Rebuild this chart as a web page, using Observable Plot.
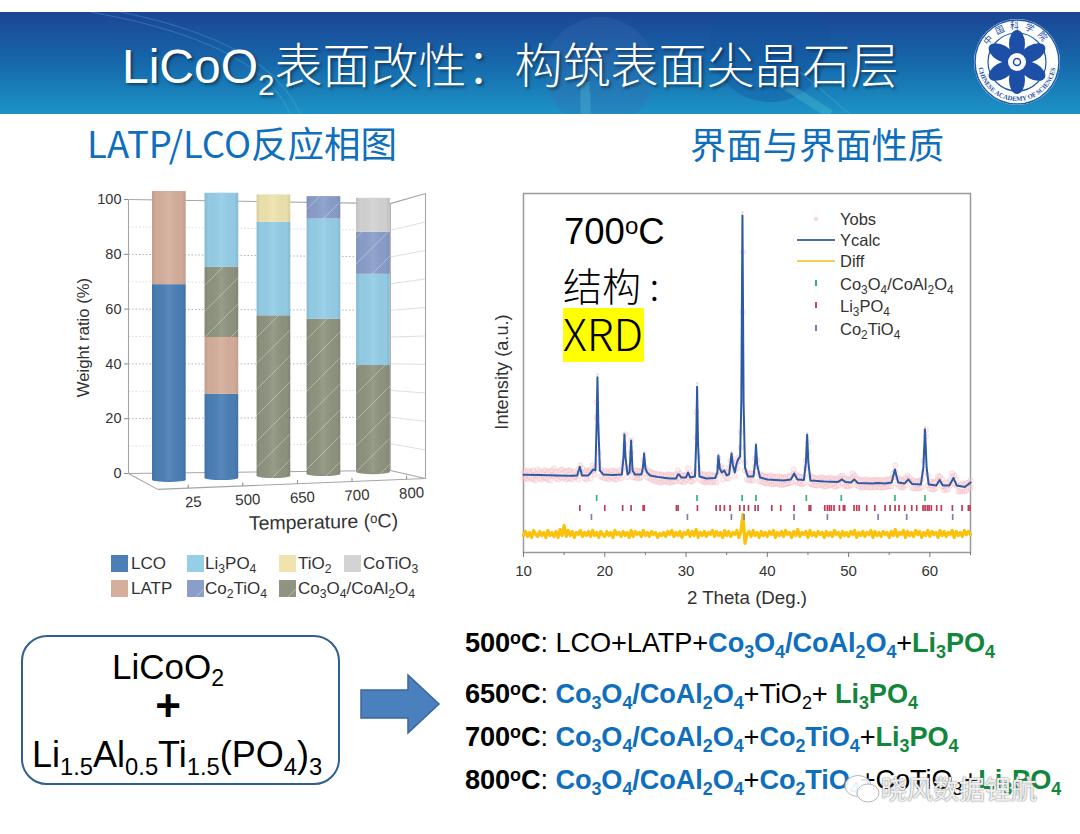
<!DOCTYPE html>
<html><head><meta charset="utf-8">
<script src="https://cdn.jsdelivr.net/npm/d3@7"></script>
<script src="https://cdn.jsdelivr.net/npm/@observablehq/plot@0.6"></script>
<style>
html,body{margin:0;padding:0;background:#fff;width:1080px;height:834px;overflow:hidden;font-family:"Liberation Sans",Arial,sans-serif}
.a{position:absolute;white-space:nowrap;line-height:1}
sub{font-size:66%;vertical-align:-0.32em;line-height:0}
sup{font-size:66%;vertical-align:0.42em;line-height:0}
.cjk{font-family:"Noto Sans CJK SC",sans-serif}
.row{font-size:27.2px;color:#000;letter-spacing:-.1px}
.b{font-weight:700}.blue{color:#0f6fbd;font-weight:700}.green{color:#12873c;font-weight:700}
.leg{font-size:17px;color:#333}
.leg sub{font-size:72%}
.sw{position:absolute;width:17px;height:17px}
.xl{font-size:16.5px;color:#333}
.xl sub{font-size:72%}
</style></head><body>
<svg width="0" height="0" style="position:absolute"><defs>
<pattern id="hatchCo" patternUnits="userSpaceOnUse" width="26" height="26"><rect width="26" height="26" fill="#8f9480"/><path d="M-2 28L28 -2" stroke="#fff" stroke-opacity=".35" stroke-width="1"/></pattern>
<pattern id="hatchCT" patternUnits="userSpaceOnUse" width="26" height="26"><rect width="26" height="26" fill="#8a9ecb"/><path d="M-2 28L28 -2" stroke="#fff" stroke-opacity=".35" stroke-width="1"/></pattern>
<linearGradient id="cyl" x1="0" x2="1" y1="0" y2="0"><stop offset="0" stop-color="#000" stop-opacity=".1"/><stop offset=".12" stop-color="#000" stop-opacity=".02"/><stop offset=".5" stop-color="#fff" stop-opacity=".08"/><stop offset=".88" stop-color="#000" stop-opacity=".02"/><stop offset="1" stop-color="#000" stop-opacity=".1"/></linearGradient>
</defs></svg>

<!-- banner -->
<svg class="a" style="left:0;top:12px" width="1080" height="102">
<defs><linearGradient id="ban" x1="0" x2="0" y1="0" y2="1"><stop offset="0" stop-color="#1c4595"/><stop offset=".5" stop-color="#1668ab"/><stop offset="1" stop-color="#1c93c6"/></linearGradient>
<path id="ringB" d="M978 62A39 39 0 0 0 1056 62"/><path id="ringT" d="M984 62A33 33 0 0 1 1050 62"/></defs>
<rect width="1080" height="102" fill="url(#ban)"/>
<circle cx="600" cy="60" r="55" fill="#3a6db0" opacity=".3"/><circle cx="770" cy="30" r="60" fill="#13509c" opacity=".35"/>
<path d="M590 80L590 102M800 60L850 102M90 0Q260 30 290 102M120 0Q270 30 300 102" stroke="#55bcd8" stroke-width="1.2" opacity=".3" fill="none"/>
<path d="M585 70L585 102M780 70L830 102" stroke="#5cc6d8" stroke-width="9" opacity=".3" fill="none"/>
<g transform="translate(0,-12)">
<circle cx="1017" cy="62" r="43" fill="#fff"/><circle cx="1017" cy="62" r="42" fill="none" stroke="#1c5aa8" stroke-width="1.5"/><circle cx="1017" cy="62" r="29" fill="none" stroke="#1c5aa8" stroke-width="1.2"/>
<g fill="#1c4fa5"><ellipse cx="1017" cy="44" rx="8" ry="14"/><ellipse cx="1017" cy="44" rx="8" ry="14" transform="rotate(60 1017 62)"/><ellipse cx="1017" cy="44" rx="8" ry="14" transform="rotate(120 1017 62)"/><ellipse cx="1017" cy="44" rx="8" ry="14" transform="rotate(180 1017 62)"/><ellipse cx="1017" cy="44" rx="8" ry="14" transform="rotate(240 1017 62)"/><ellipse cx="1017" cy="44" rx="8" ry="14" transform="rotate(300 1017 62)"/></g>
<circle cx="1017" cy="62" r="9" fill="#fff"/><circle cx="1017" cy="62" r="3.5" fill="none" stroke="#1c4fa5" stroke-width="1.5"/>
<text font-size="6.6" fill="#1c4fa5" font-family="Liberation Serif" font-weight="700"><textPath href="#ringB" startOffset="50%" text-anchor="middle">CHINESE ACADEMY OF SCIENCES</textPath></text>
<text font-size="9" fill="#1c4fa5" font-family="Noto Sans CJK SC"><textPath href="#ringT" startOffset="50%" text-anchor="middle" letter-spacing="5">中国科学院</textPath></text>
</g></svg>
<div class="a" style="left:122px;top:38px;font-size:48px;color:#fff;text-shadow:2px 2px 3px rgba(0,0,0,.45)">LiCoO<sub style="font-size:62%;vertical-align:-.4em">2</sub><span class="cjk" style="font-weight:300">表面改性&#xFF1A;构筑表面尖晶石层</span></div>

<div class="a cjk" style="left:87px;top:125px;font-size:36.5px;color:#0f6fbd;font-weight:400">LATP/LCO反应相图</div>
<div class="a cjk" style="left:690px;top:125px;font-size:36.3px;color:#0f6fbd;font-weight:400">界面与界面性质</div>

<div id="left" class="a" style="left:60px;top:170px"></div>
<div id="right" class="a" style="left:480px;top:180px"></div>

<!-- left legend -->
<div id="leg"></div>

<!-- right chart overlays -->
<div class="a" style="left:564px;top:214px;font-size:36.5px;color:#000">700<sup>o</sup>C</div>
<div class="a cjk" style="left:563px;top:265px;font-size:39px;color:#000;font-weight:300">结构 :</div>
<div class="a" style="left:563px;top:308px;width:81px;height:54px;background:#ffff00"></div>
<div class="a cjk" style="left:563px;top:310px;font-size:44px;color:#000;font-weight:300">XRD</div>
<div class="a" style="left:814px;top:217px;width:4px;height:4px;border-radius:2px;background:#f6d3d6"></div>
<div class="a" style="left:797px;top:239px;width:38px;height:2px;background:#4b6ea8"></div>
<div class="a" style="left:797px;top:260px;width:38px;height:2px;background:#f2cf5a"></div>
<div class="a" style="left:815px;top:280px;width:2px;height:6px;background:#35b07f"></div>
<div class="a" style="left:815px;top:302px;width:2px;height:6px;background:#c9445c"></div>
<div class="a" style="left:815px;top:325px;width:2px;height:6px;background:#7b7fae"></div>
<div class="a xl" style="left:840px;top:211px">Yobs</div>
<div class="a xl" style="left:840px;top:232px">Ycalc</div>
<div class="a xl" style="left:840px;top:253px">Diff</div>
<div class="a xl" style="left:840px;top:276px">Co<sub>3</sub>O<sub>4</sub>/CoAl<sub>2</sub>O<sub>4</sub></div>
<div class="a xl" style="left:840px;top:298px">Li<sub>3</sub>PO<sub>4</sub></div>
<div class="a xl" style="left:840px;top:321px">Co<sub>2</sub>TiO<sub>4</sub></div>

<!-- reactant box and arrow -->
<div class="a" style="left:21px;top:635px;width:315px;height:146px;border:2.5px solid #2f5f8f;border-radius:26px"></div>
<div class="a" style="left:21px;width:294px;text-align:center;top:649px;font-size:35px;color:#000">LiCoO<sub>2</sub></div>
<div class="a b" style="left:21px;width:294px;text-align:center;top:684px;font-size:44px;color:#000">+</div>
<div class="a" style="left:32px;top:737px;font-size:36px;color:#000">Li<sub>1.5</sub>Al<sub>0.5</sub>Ti<sub>1.5</sub>(PO<sub>4</sub>)<sub>3</sub></div>
<svg class="a" style="left:358px;top:672px" width="86" height="64"><path d="M3 18H50V3L81 32L50 61V46H3Z" fill="#4a80bd" stroke="#3a679b" stroke-width="1.5"/></svg>

<!-- phase rows -->
<div class="a row" style="left:465px;top:629px"><span class="b">500<sup>o</sup>C</span>: LCO+LATP+<span class="blue">Co<sub>3</sub>O<sub>4</sub>/CoAl<sub>2</sub>O<sub>4</sub></span>+<span class="green">Li<sub>3</sub>PO<sub>4</sub></span></div>
<div class="a row" style="left:465px;top:680px"><span class="b">650<sup>o</sup>C</span>: <span class="blue">Co<sub>3</sub>O<sub>4</sub>/CoAl<sub>2</sub>O<sub>4</sub></span>+TiO<sub>2</sub>+ <span class="green">Li<sub>3</sub>PO<sub>4</sub></span></div>
<div class="a row" style="left:465px;top:723px"><span class="b">700<sup>o</sup>C</span>: <span class="blue">Co<sub>3</sub>O<sub>4</sub>/CoAl<sub>2</sub>O<sub>4</sub></span>+<span class="blue">Co<sub>2</sub>TiO<sub>4</sub></span>+<span class="green">Li<sub>3</sub>PO<sub>4</sub></span></div>
<div class="a row" style="left:465px;top:766px"><span class="b">800<sup>o</sup>C</span>: <span class="blue">Co<sub>3</sub>O<sub>4</sub>/CoAl<sub>2</sub>O<sub>4</sub></span>+<span class="blue">Co<sub>2</sub>TiO<sub>4</sub></span>+CoTiO<sub>3</sub>+<span class="green">Li<sub>3</sub>PO<sub>4</sub></span></div>

<!-- watermark -->
<svg class="a" style="left:840px;top:772px" width="44" height="36"><ellipse cx="18" cy="14" rx="13" ry="10.5" fill="#fff" fill-opacity=".9" stroke="#b8b8b8"/><ellipse cx="28" cy="21" rx="11" ry="9" fill="#fff" fill-opacity=".9" stroke="#b8b8b8"/></svg>
<div class="a cjk" style="left:881px;top:775px;font-size:26px;color:rgba(255,255,255,.9);text-shadow:0 0 2px #888,0 0 1px #888">晓风数据锂航</div>

<script>
/* ---------- left chart data: weight ratio (%) at each temperature ---------- */
const temperatures = ["25","500","650","700","800"];
const phases   = ["LCO","LATP","Co3O4/CoAl2O4","Li3PO4","TiO2","Co2TiO4","CoTiO3"];
const LCO      = [68,   30,   0,    0,    0];
const LATP     = [32,   19.8, 0,    0,    0];
const Co3O4    = [0,    24.4, 57.4, 56.2, 39.5];
const Li3PO4   = [0,    25.8, 33,   35.8, 33];
const TiO2     = [0,    0,    9.6,  0,    0];
const Co2TiO4  = [0,    0,    0,    8,    15.2];
const CoTiO3   = [0,    0,    0,    0,    12.3];
const phaseValues = [LCO,LATP,Co3O4,Li3PO4,TiO2,Co2TiO4,CoTiO3];
const phaseFill = ["#4b7fb6","#d5ae9c","url(#hatchCo)","#94cee7","#efe3ae","url(#hatchCT)","#d3d3d3"];

/* pseudo-3D view of the box */
const slot = [0,1.03,2.05,3.03,4];
const halfBar = 0.33;
const barBottom = i => -3.3 + 0.72*i, barTop = i => 102.9 - 0.62*i;
const project = (i,v) => barBottom(i) + (barTop(i)-barBottom(i))*v/100;
const rows = [];
temperatures.forEach((t,i)=>{let c=0; phases.forEach((p,k)=>{const v=phaseValues[k][i]; if(v>0){rows.push({t,i,phase:p,y1:project(i,c),y2:project(i,c+v),x1:slot[i]-halfBar,x2:slot[i]+halfBar}); c+=v;}});});
const bars = temperatures.map((t,i)=>({t,i,x1:slot[i]-halfBar,x2:slot[i]+halfBar,y1:barBottom(i),y2:barTop(i)}));
const firstRows = bars.map(b=>({...b,phase:rows.find(r=>r.i===b.i).phase,y2:b.y1+1.7,y1:b.y1}));
const lastRows  = bars.map(b=>({...b,phase:rows.filter(r=>r.i===b.i).pop().phase,y1:b.y2-1.2}));
const box = {bl:[-0.8,0],tl:[-0.8,100],br:[4.33,1.1],tr:[4.33,98.5],fl:[-0.23,-5.8],fr:[5.02,-1.8],ftr:[5.02,102.2]};
const edges = [[box.tl,box.bl],[box.tl,box.tr],[box.bl,box.br],[box.bl,box.fl],[box.fl,box.fr],[box.br,box.fr],[box.tr,box.ftr],[box.ftr,box.fr],[box.tr,box.br]];
const levels = d3.range(10,100,10);
const lerp = (a,b,t)=>a+(b-a)*t;
const wallLines = levels.map(v=>({v,x1:box.bl[0],x2:box.br[0],y1:v,y2:lerp(box.br[1],box.tr[1],v/100)}));
const sideLines = levels.map(v=>({v,x1:box.br[0],x2:box.fr[0],y1:lerp(box.br[1],box.tr[1],v/100),y2:lerp(box.fr[1],box.ftr[1],v/100)}));
const edgeY = u => lerp(box.fl[1],box.fr[1],(u-box.fl[0])/(box.fr[0]-box.fl[0]));
const ticksU = temperatures.map((t,i)=>({t,u:0.37+1.07*i}));

const left = Plot.plot({
  width:380,height:360,marginLeft:68,marginRight:15,marginTop:29,marginBottom:57,
  style:{fontFamily:"Liberation Sans",background:"transparent",overflow:"visible"},
  x:{domain:[-0.8,5.02],axis:null},
  y:{domain:[0,100],axis:null},
  color:{domain:phases,range:phaseFill},
  marks:[
    Plot.link(wallLines,{x1:"x1",x2:"x2",y1:"y1",y2:"y2",stroke:d=>d.v%20?"#dcdcdc":"#b0b0b0",strokeDasharray:"1.5,2",strokeWidth:1}),
    Plot.link(sideLines,{x1:"x1",x2:"x2",y1:"y1",y2:"y2",stroke:"#d5d5d5",strokeWidth:.8}),
    Plot.link(edges,{x1:d=>d[0][0],y1:d=>d[0][1],x2:d=>d[1][0],y2:d=>d[1][1],stroke:"#a5a5a5",strokeWidth:1.1}),
    Plot.link(ticksU,{x1:"u",x2:"u",y1:d=>edgeY(d.u),y2:d=>edgeY(d.u)+1.3,stroke:"#888",strokeWidth:1}),
    Plot.axisY({ticks:[0,20,40,60,80,100],tickSize:4,tickPadding:3,fontSize:14.5,label:null,color:"#333",stroke:"#888"}),
    Plot.text(["Weight ratio (%)"],{frameAnchor:"left",textAnchor:"middle",dx:-45,dy:1,text:d=>d,rotate:-90,fontSize:16.7,fill:"#333"}),
    Plot.rect(rows,{x1:"x1",x2:"x2",y1:d=>Math.max(d.y1,barBottom(d.i)+.8),y2:"y2",fill:"phase"}),
    Plot.rect(firstRows,{x1:"x1",x2:"x2",y1:"y1",y2:"y2",fill:"phase",rx:17,ry:2.5}),
    Plot.rect(lastRows,{x1:"x1",x2:"x2",y1:"y1",y2:"y2",fill:"phase",rx:17,ry:2}),
    Plot.rect(bars,{x1:"x1",x2:"x2",y1:d=>d.y1+.7,y2:"y2",fill:"url(#cyl)"}),
    Plot.text(ticksU,{x:"u",y:d=>edgeY(d.u),text:"t",dx:5,dy:14,rotate:-3,fontSize:15,fill:"#333"}),
    Plot.text(["Temperature (ᵒC)"],{x:[3.02],y:[-17.8],text:d=>d,rotate:-1,fontSize:19.5,fill:"#333"})
  ]
});
document.getElementById("left").append(left);

/* left legend (html, because of the subscripts) */
const legendLabels = ["LCO","Li<sub>3</sub>PO<sub>4</sub>","TiO<sub>2</sub>","CoTiO<sub>3</sub>","LATP","Co<sub>2</sub>TiO<sub>4</sub>","Co<sub>3</sub>O<sub>4</sub>/CoAl<sub>2</sub>O<sub>4</sub>"];
const legendIdx = [0,3,4,6,1,5,2];
const legendSwatchX=[111,187,279,344], legendTextX=[131,205,298,363];
const legEl=document.getElementById("leg");
legendLabels.forEach((l,i)=>{
  const col=i<4?i:i-4, topY=i<4?555:580;
  legEl.insertAdjacentHTML("beforeend",`<svg class="a" style="left:${legendSwatchX[col]}px;top:${topY}px" width="17" height="17"><rect width="17" height="17" fill="${phaseFill[legendIdx[i]]}"/></svg><div class="a leg" style="left:${legendTextX[col]}px;top:${topY}px">${l}</div>`);
});

/* ---------- right chart data (2 theta, intensity in a.u.) ---------- */
const ycalcTheta=[10,12,14,16,16.6,16.93,17.2,18,18.3,18.6,18.85,19,19.1,19.2,19.4,19.8,21,22.1,22.3,22.42,22.55,22.8,23.05,23.24,23.42,23.7,24.5,24.7,24.84,25,25.2,25.6,26.5,28,28.8,29,29.15,29.4,30,30.25,30.5,31.1,31.25,31.36,31.47,31.65,32.5,33.6,33.85,33.98,34.15,34.4,34.7,35,35.3,35.5,35.6,35.75,36,36.2,36.4,36.65,36.8,36.94,37.08,37.25,37.6,38.3,38.5,38.6,38.75,39.1,40,42,42.9,43.3,43.7,44.5,44.75,44.9,45.05,45.3,47,48.7,49.2,49.6,50.3,50.7,51.1,53,53.5,54.5,55.3,55.7,56.1,56.9,57.35,57.8,58.9,59.2,59.4,59.6,59.85,60.8,61.2,61.6,62.4,62.9,63.3,64.3,65];
const ycalcI=[77.7,77.5,77,76.7,77,85.7,77,77,80,83,82,130,175,130,82,78,77.5,78,95,118,95,78,80,112,82,78,78,85,99,84,80,77,75.5,74,74,78,78,75,75,80,75,76,110,165.7,110,76,74,74.5,80,96.7,84,80,82,77,78,92,99,88,80,88,93,96,150,336.7,150,85,76,76,90,107.7,88,75,73,72,73,79,73,72.5,90,117.7,90,72,71,70.5,73,70.5,70,73,69.5,69,69.5,69,70,83,70,69,73,68.5,68,85,123,85,68,67,72.5,67,67,74.5,67,65.5,70];
const yobsI=[
80,74,82,75,81,73,78,83,74,80,75,82,73,81,77,84,74,80,75,83,
81,73,82,74,80,75,78,83,87,78,74,82,80,81,87,85,135,100,83,75,
81,74,80,75,82,73,80,76,81,85,108,83,80,112,81,75,82,74,81,92,
85,82,74,80,72,79,71,78,70,77,71,78,70,77,71,78,82,79,71,77,
72,84,71,78,73,115,96,73,78,70,77,71,78,70,77,77,94,86,79,85,
74,81,92,88,76,90,91,105,300,90,73,79,72,79,94,86,78,71,77,69,
76,70,77,68,75,69,76,67,75,68,76,69,77,83,78,69,76,68,75,92,
100,77,68,75,67,74,68,75,66,74,67,75,68,73,66,74,72,77,67,74,
66,73,75,77,67,73,65,72,66,73,65,72,65,73,66,73,65,72,65,73,
66,74,79,87,75,66,73,65,74,77,71,65,72,64,71,64,73,92,116,77,
64,71,63,71,73,76,66,62,70,63,72,76,77,67,61,68,61,68,62,70,72];
const yobsSpreadI=[
74,81,73,80,74,82,72,77,81,73,82,74,80,72,82,76,81,73,82,74,
75,81,74,82,73,81,76,73,81,84,80,73,82,74,81,78,150,90,76,81,
74,81,73,82,74,81,73,82,74,90,118,75,85,100,75,82,74,81,75,85,
79,75,81,73,79,71,78,70,78,71,77,70,78,70,77,71,74,71,77,70,
78,75,77,71,80,140,84,79,71,78,70,78,70,77,71,70,86,81,73,79,
80,74,86,94,82,84,95,120,240,82,80,72,79,72,86,92,71,78,70,76,
69,76,68,76,69,76,68,75,68,75,69,76,70,79,71,76,69,75,69,84,
110,69,75,67,74,67,75,67,74,66,74,67,74,66,74,67,76,69,74,66,
73,67,79,71,74,66,72,65,73,65,72,65,72,65,72,65,72,65,72,66,
73,66,75,81,68,73,65,72,67,73,75,72,64,71,64,72,65,80,122,67,
71,63,70,64,76,71,73,66,63,70,67,79,69,73,66,61,69,61,69,64,65];
const obsTipTheta=[19.1,19.05,19.15,22.4,22.45,23.22,24.85,31.36,31.32,31.4,33.98,35.6,36.94,36.9,36.98,36.88,37,38.6,44.9,44.85,59.4,59.45,59.35];
const obsTipI=[178,155,150,119,105,106,100,169,145,135,98,100,340,255,210,190,280,109,119,105,125,105,100];
const diffI=[
17,21,16,20,15,22,18,16,21,17,20,15,22,17,20,16,21,15,23,17,
27,16,22,17,21,15,20,18,22,16,20,17,21,16,22,17,20,15,21,18,
16,21,17,20,15,22,18,20,16,21,17,20,15,22,16,21,18,20,16,22,
17,20,16,21,18,20,15,19,17,20,16,21,18,22,16,20,17,21,15,20,
18,22,16,21,17,23,15,20,17,21,16,20,18,22,16,21,17,20,15,22,
17,21,16,20,18,22,15,21,38,9,18,21,16,22,17,20,15,21,17,20,
16,21,18,22,15,20,17,21,16,22,18,20,15,21,17,23,16,20,18,21,
15,22,17,20,16,21,18,20,15,21,17,20,16,22,18,20,15,21,17,20,
16,21,18,22,15,20,17,21,16,20,18,22,15,21,17,20,16,21,18,20,
15,21,17,23,16,20,18,22,15,21,17,20,16,22,18,21,15,20,17,22,
16,21,18,20,15,22,17,21,16,20,18,22,15,21,17,20,16,22,18,21,18];
const co3o4Ticks=[19,31.35,36.9,38.6,44.8,49.1,55.7,59.4];
const li3po4Ticks=[16.93,20,22.2,23.24,24.72,24.84,28.82,29.02,31.4,33.7,34.19,34.72,35.42,36.61,37.14,37.68,38.5,38.86,40.55,41.65,43.29,45.14,45.34,47.07,47.39,47.64,47.88,48.21,48.87,49.36,49.52,50.67,51,51.29,52.23,53.22,54.49,55.1,55.72,56.21,56.91,57.77,58.38,59.16,59.41,59.69,59.9,60.18,60.84,61.41,62.77,63.96,64.74,64.94];
const co2tio4Ticks=[18.36,30.17,35.58,37.14,43.29,47.39,53.63,57.15,62.81];
const xMajor=[10,20,30,40,50,60], xMinor=[15,25,35,45,55,65];

const grid025 = i => 10 + i*0.25;
const obs = [...yobsI.map((v,i)=>[grid025(i),v]),...yobsSpreadI.map((v,i)=>[grid025(i),v])];
const obsTips = obsTipTheta.map((t,i)=>[t,obsTipI[i]]);
const tickRow=(vals,lo,hi,color)=>Plot.ruleX(vals,{x:d=>d,y1:lo,y2:hi,stroke:color,strokeWidth:1.7});

const right = Plot.plot({
  width:500,height:440,marginLeft:43,marginRight:10,marginTop:13,marginBottom:68,
  style:{fontFamily:"Liberation Sans",background:"transparent",overflow:"visible"},
  x:{domain:[10,65]},
  y:{domain:[0,358.7],axis:null},
  marks:[
    Plot.frame({stroke:"#9a9a9a",strokeWidth:1.5}),
    Plot.dot(obs,{x:d=>d[0],y:d=>d[1],r:2.6,stroke:"#f0a4ae",strokeOpacity:.45,strokeWidth:.7,fill:"#f9d0d4",fillOpacity:.3}),
    Plot.dot(obsTips,{x:d=>d[0],y:d=>d[1],r:1.3,fill:"#f4bcc3",fillOpacity:.6}),
    Plot.line(diffI.map((v,i)=>[grid025(i),v]),{x:d=>d[0],y:d=>d[1],stroke:"#fbc20c",strokeWidth:3.2}),
    tickRow(co3o4Ticks,51,57,"#35b07f"),
    tickRow(li3po4Ticks,41,47,"#c23a55"),
    tickRow(co2tio4Ticks,32,38,"#7b7fb8"),
    Plot.line(ycalcTheta.map((t,i)=>[t,ycalcI[i]]),{x:d=>d[0],y:d=>d[1],stroke:"#2d5aa2",strokeWidth:2,strokeLinejoin:"round"}),
    Plot.axisX({ticks:xMinor,tickSize:3,tickFormat:()=>"",label:null,stroke:"#777"}),
    Plot.axisX({ticks:xMajor,tickSize:5,tickPadding:8,fontSize:15,label:null,color:"#333",stroke:"#777"}),
    Plot.text(["2 Theta (Deg.)"],{x:[37.5],y:[0],text:d=>d,dy:46,fontSize:18.7,fill:"#333"}),
    Plot.text(["Intensity (a.u.)"],{frameAnchor:"left",textAnchor:"middle",dx:-21,dy:-1,text:d=>d,rotate:-90,fontSize:18.2,fill:"#333"})
  ]
});
document.getElementById("right").append(right);
</script>
</body></html>
